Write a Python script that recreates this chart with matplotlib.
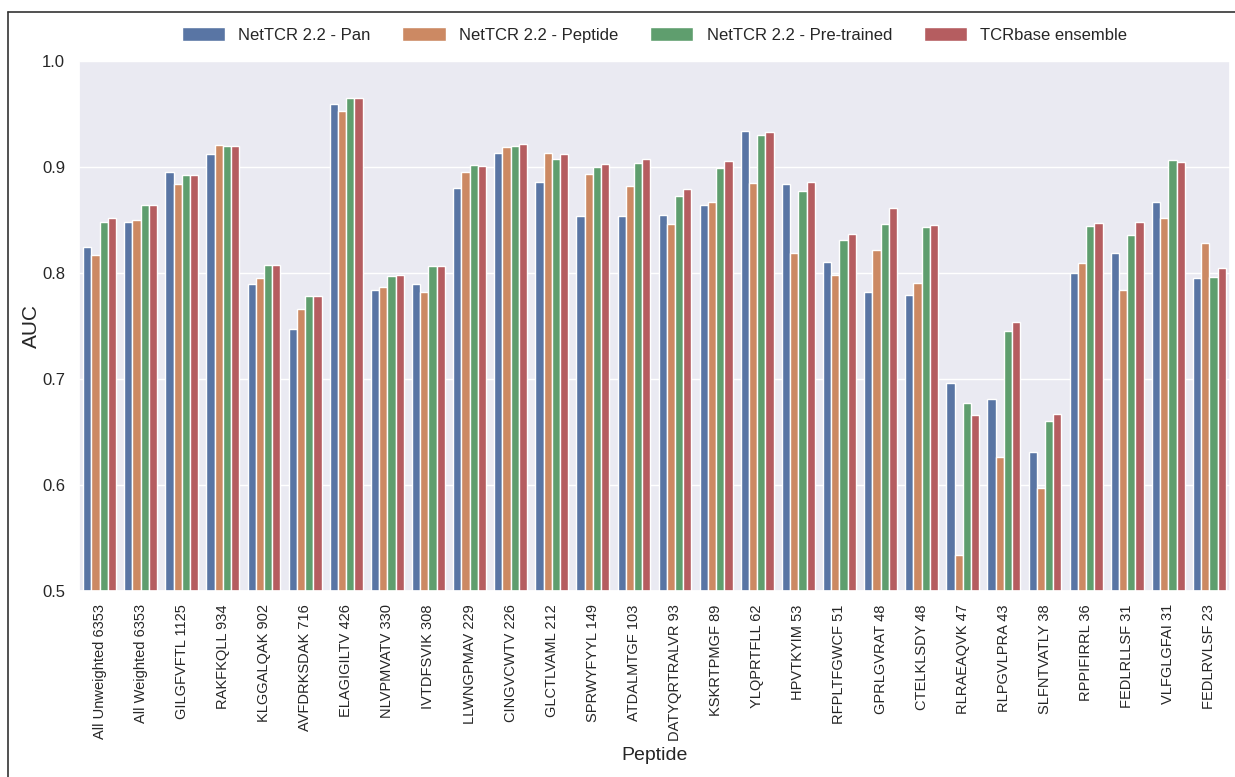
import matplotlib
matplotlib.use("Agg")
import matplotlib.pyplot as plt
import seaborn as sns
import pandas as pd
from matplotlib.lines import Line2D

peptides = ["All Unweighted 6353", "All Weighted 6353", "GILGFVFTL 1125", "RAKFKQLL 934",
            "KLGGALQAK 902", "AVFDRKSDAK 716", "ELAGIGILTV 426", "NLVPMVATV 330",
            "IVTDFSVIK 308", "LLWNGPMAV 229", "CINGVCWTV 226", "GLCTLVAML 212",
            "SPRWYFYYL 149", "ATDALMTGF 103", "DATYQRTRALVR 93", "KSKRTPMGF 89",
            "YLQPRTFLL 62", "HPVTKYIM 53", "RFPLTFGWCF 51", "GPRLGVRAT 48",
            "CTELKLSDY 48", "RLRAEAQVK 47", "RLPGVLPRA 43", "SLFNTVATLY 38",
            "RPPIFIRRL 36", "FEDLRLLSF 31", "VLFGLGFAI 31", "FEDLRVLSF 23"]

models = ["NetTCR 2.2 - Pan", "NetTCR 2.2 - Peptide", "NetTCR 2.2 - Pre-trained", "TCRbase ensemble"]

pan = [0.825, 0.848, 0.895, 0.912, 0.790, 0.747, 0.959, 0.784, 0.790, 0.880,
       0.913, 0.886, 0.854, 0.854, 0.855, 0.864, 0.934, 0.884, 0.810, 0.782,
       0.779, 0.696, 0.681, 0.631, 0.800, 0.819, 0.867, 0.795]
peptide = [0.817, 0.850, 0.884, 0.921, 0.795, 0.766, 0.953, 0.787, 0.782, 0.895,
           0.919, 0.913, 0.893, 0.882, 0.846, 0.867, 0.885, 0.819, 0.798, 0.822,
           0.791, 0.534, 0.626, 0.597, 0.809, 0.784, 0.852, 0.828]
pretrained = [0.848, 0.864, 0.892, 0.920, 0.808, 0.778, 0.965, 0.797, 0.807, 0.902,
              0.920, 0.908, 0.900, 0.904, 0.873, 0.899, 0.930, 0.877, 0.831, 0.846,
              0.843, 0.677, 0.745, 0.660, 0.844, 0.836, 0.907, 0.796]
tcrbase = [0.852, 0.864, 0.892, 0.920, 0.808, 0.778, 0.965, 0.798, 0.807, 0.901,
           0.922, 0.912, 0.903, 0.908, 0.879, 0.906, 0.933, 0.886, 0.837, 0.861,
           0.845, 0.666, 0.754, 0.667, 0.847, 0.848, 0.905, 0.805]

rows = []
for m, vals in zip(models, [pan, peptide, pretrained, tcrbase]):
    for p, v in zip(peptides, vals):
        rows.append({"Peptide": p, "Model": m, "AUC": v})
df = pd.DataFrame(rows)

sns.set_theme(style="darkgrid")
plt.rcParams["font.family"] = ["Liberation Sans", "DejaVu Sans"]

fig = plt.figure(figsize=(12.35, 7.77), dpi=100)
ax = fig.add_axes([79 / 1235, 1 - 591 / 777, (1230 - 79) / 1235, (591 - 61) / 777])

sns.barplot(data=df, x="Peptide", y="AUC", hue="Model", ax=ax, palette="deep",
            edgecolor="white", linewidth=1.0)

ax.set_ylim(0.5, 1.0)
ax.set_yticks([0.5, 0.6, 0.7, 0.8, 0.9, 1.0])
ax.set_yticklabels(["0.5", "0.6", "0.7", "0.8", "0.9", "1.0"], fontsize=12)
ax.tick_params(axis="y", pad=4)
ax.tick_params(axis="x", labelrotation=90, labelsize=10.5)
ax.set_xlim(-0.5, len(peptides) - 0.5)
ax.set_xlabel("Peptide", fontsize=14, labelpad=4)
ax.set_ylabel("AUC", fontsize=15, labelpad=1)
ax.xaxis.grid(False)

handles, labels = ax.get_legend_handles_labels()
ax.legend_.remove()
fig.legend(handles, labels, loc="center", bbox_to_anchor=(0.53, 1 - 35 / 777), ncol=4,
           frameon=False, fontsize=12, handlelength=2.6, handleheight=0.9, columnspacing=1.9)

# figure frame lines (left and top)
fig.add_artist(Line2D([8 / 1235, 8 / 1235], [0, 1 - 12 / 777], transform=fig.transFigure,
                      color="#333333", linewidth=1.2))
fig.add_artist(Line2D([8 / 1235, 1], [1 - 12 / 777, 1 - 12 / 777], transform=fig.transFigure,
                      color="#333333", linewidth=1.2))

fig.savefig("out.png", dpi=100, facecolor="white")
